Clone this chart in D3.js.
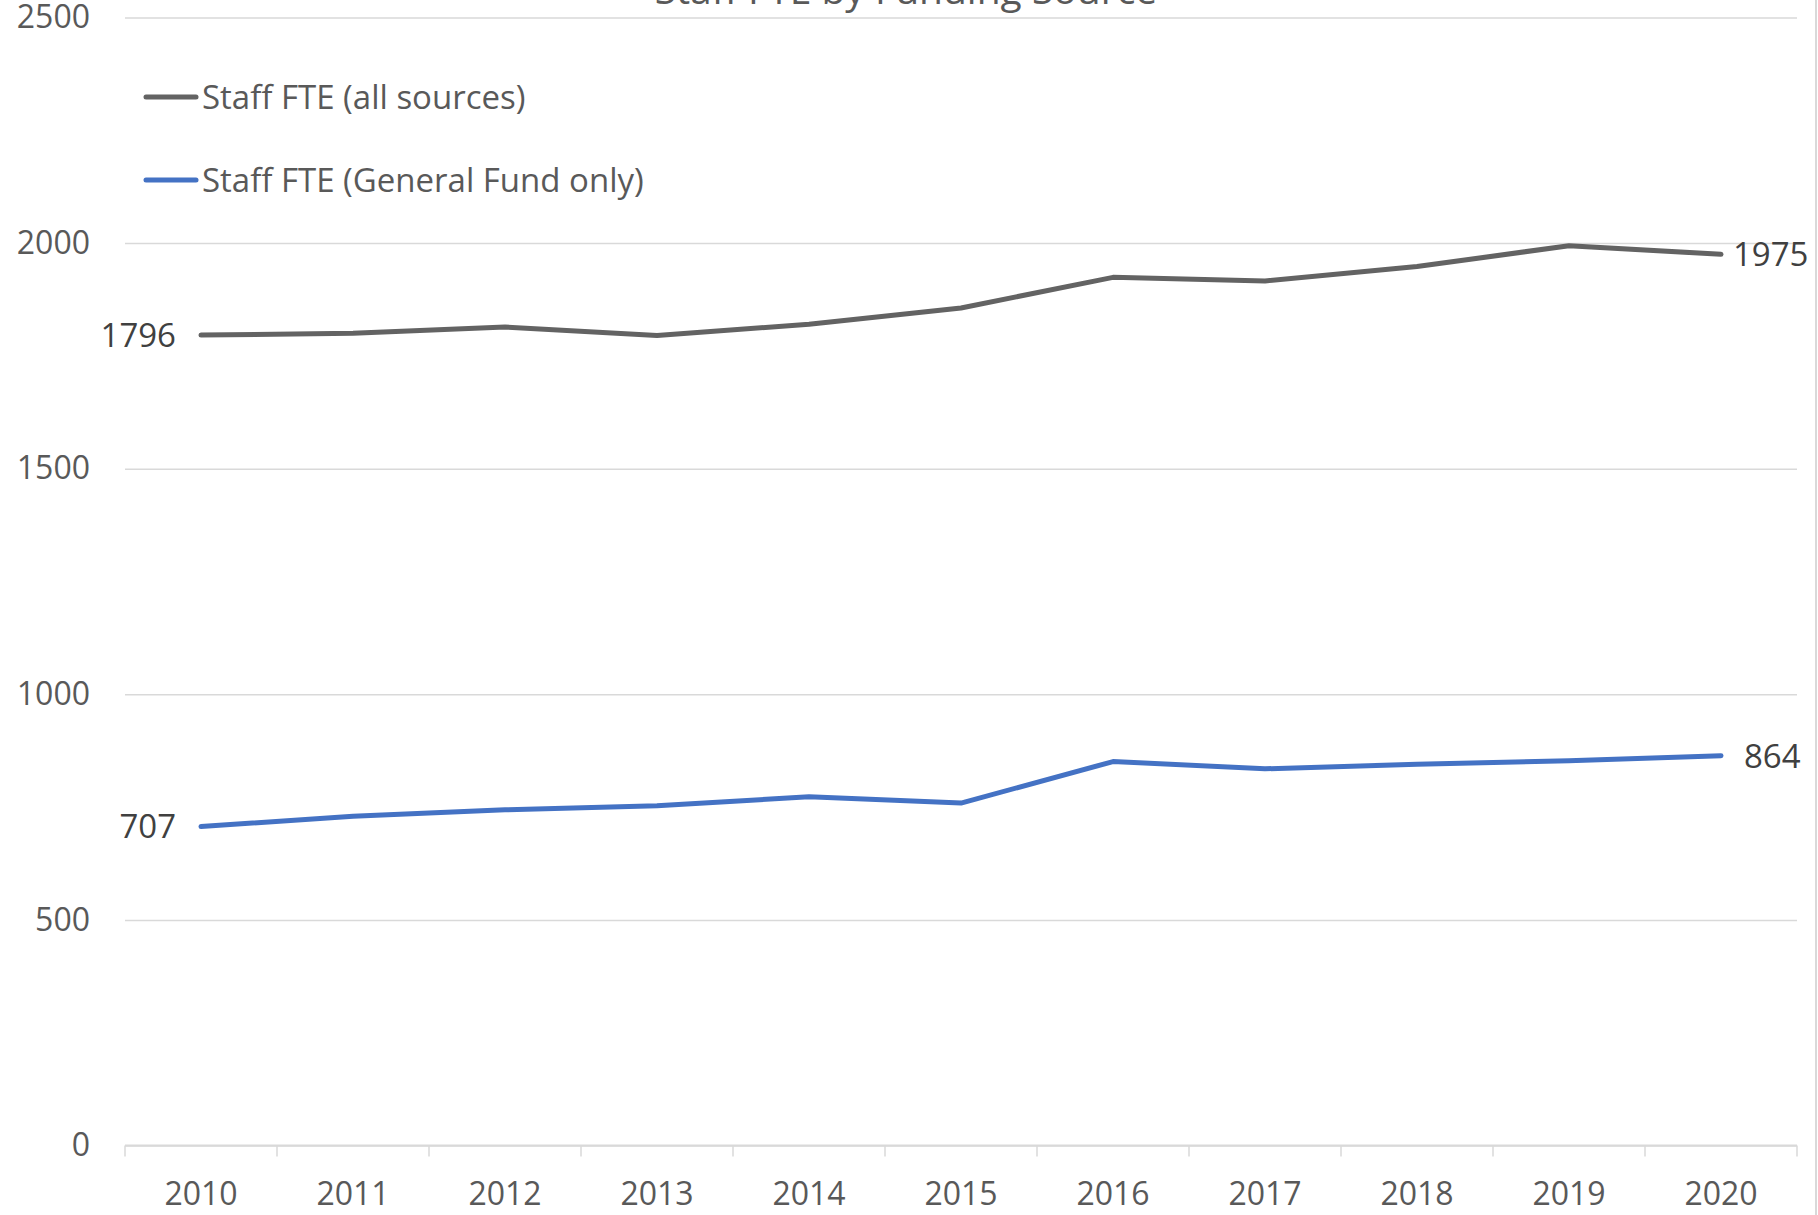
<!DOCTYPE html>
<html lang="en">
<head>
  <meta charset="UTF-8" />
  <title>Staff FTE by Funding Source</title>
  <script src="https://d3js.org/d3.v7.min.js"></script>
  <style>
    body { margin: 0; background: #fff; }
    svg { display: block; font-family: "Open Sans", "Noto Sans", sans-serif; }
    .grid line { stroke: #d9d9d9; stroke-width: 1.5px; }
    .axis text { fill: #595959; font-size: 32px; font-family: "Open Sans", "Noto Sans", sans-serif; }
    .series { fill: none; stroke-width: 5px; stroke-linejoin: round; stroke-linecap: round; }
    .dlabel { fill: #404040; font-size: 33px; }
  </style>
</head>
<body>
  <svg id="chart" width="1818" height="1215"></svg>
  <script>
    // values
    const years = ["2010", "2011", "2012", "2013", "2014", "2015", "2016", "2017", "2018", "2019", "2020"];
    const allSources = [1796, 1800, 1814, 1795, 1820, 1856, 1924, 1916, 1948, 1994, 1975];
    const generalFund = [707, 730, 744, 753, 773, 759, 851, 835, 845, 853, 864];
    const yTicks = [0, 500, 1000, 1500, 2000, 2500];
    const seriesNames = ["Staff FTE (all sources)", "Staff FTE (General Fund only)"];
    const seriesColors = ["#636363", "#4472c4"];

    const W = 1818, H = 1215;
    const plotLeft = 125, plotRight = 1797, plotTop = 17.4, plotBottom = 1145.6;
    const svg = d3.select("#chart");

    const x = d3.scaleBand().domain(years).range([plotLeft, plotRight]).padding(0);
    const y = d3.scaleLinear().domain([0, 2500]).range([plotBottom, plotTop]);
    const cx = d => x(d) + x.bandwidth() / 2;

    // title, mostly cut off above the top edge (as in the original)
    svg.append("text")
      .attr("x", 906).attr("y", 4)
      .attr("text-anchor", "middle")
      .attr("fill", "#595959")
      .style("font-size", "39px")
      .text("Staff FTE by Funding Source");

    // gridlines + y labels
    const yAxis = svg.append("g")
      .attr("class", "grid axis")
      .attr("transform", `translate(${plotLeft},0)`)
      .call(d3.axisLeft(y).tickValues(yTicks).tickSize(-(plotRight - plotLeft)).tickPadding(35).tickFormat(d3.format("d")));
    yAxis.select(".domain").remove();

    // baseline with category boundary ticks
    svg.append("line")
      .attr("x1", plotLeft).attr("x2", plotRight)
      .attr("y1", y(0)).attr("y2", y(0))
      .attr("stroke", "#d9d9d9").attr("stroke-width", 2);

    const bounds = years.map(d => x(d)).concat([plotRight]);
    svg.append("g").selectAll("line")
      .data(bounds)
      .enter().append("line")
      .attr("x1", d => d).attr("x2", d => d)
      .attr("y1", y(0)).attr("y2", y(0) + 11)
      .attr("stroke", "#d9d9d9").attr("stroke-width", 1.5);

    const xAxis = svg.append("g")
      .attr("class", "axis")
      .attr("transform", `translate(0,${y(0)})`)
      .call(d3.axisBottom(x).tickSize(0).tickPadding(37));
    xAxis.select(".domain").remove();

    // chart border on the right
    svg.append("line")
      .attr("x1", 1816).attr("x2", 1816)
      .attr("y1", 0).attr("y2", H)
      .attr("stroke", "#d9d9d9").attr("stroke-width", 2);

    // lines
    const line = d3.line().x(d => cx(d.year)).y(d => y(d.v));
    const series = [allSources, generalFund].map(vals => vals.map((v, i) => ({ year: years[i], v })));

    svg.selectAll(".series")
      .data(series)
      .enter().append("path")
      .attr("class", "series")
      .attr("stroke", (d, i) => seriesColors[i])
      .attr("d", line);

    // data labels at first and last points
    const labels = [];
    series.forEach((s, i) => {
      labels.push({ p: s[0], anchor: "end", dx: -25 });
      labels.push({ p: s[s.length - 1], anchor: "start", dx: i === 0 ? 12 : 23 });
    });
    svg.selectAll(".dlabel")
      .data(labels)
      .enter().append("text")
      .attr("class", "dlabel")
      .attr("x", d => cx(d.p.year) + d.dx)
      .attr("y", d => y(d.p.v))
      .attr("dy", "0.36em")
      .attr("text-anchor", d => d.anchor)
      .text(d => d.p.v);

    // legend
    const legend = svg.append("g").selectAll("g")
      .data(seriesNames)
      .enter().append("g")
      .attr("transform", (d, i) => `translate(0,${97 + i * 83})`);
    legend.append("line")
      .attr("x1", 146).attr("x2", 196)
      .attr("stroke", (d, i) => seriesColors[i])
      .attr("stroke-width", 5)
      .attr("stroke-linecap", "round");
    legend.append("text")
      .attr("x", 202).attr("dy", "0.36em")
      .attr("fill", "#595959")
      .style("font-size", "33px")
      .text(d => d);
  </script>
</body>
</html>
